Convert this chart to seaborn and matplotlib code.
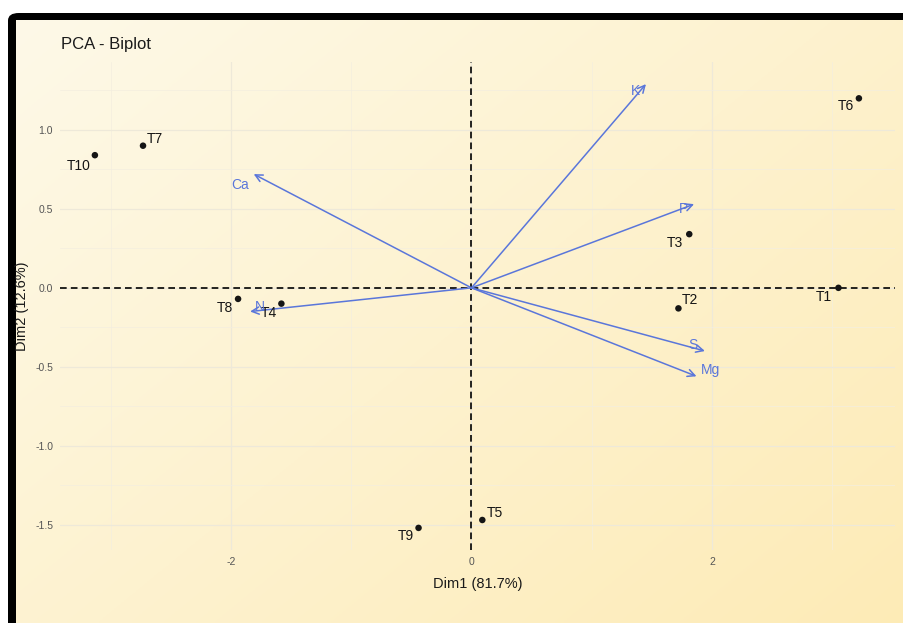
import numpy as np
import pandas as pd
import matplotlib
matplotlib.use("Agg")
import matplotlib.pyplot as plt
from matplotlib.patches import FancyBboxPatch
import seaborn as sns

# === Data ===
treatments = ["T1", "T2", "T3", "T4", "T5", "T6", "T7", "T8", "T9", "T10"]
dim1 = [3.05, 1.72, 1.81, -1.58, 0.09, 3.22, -2.73, -1.94, -0.44, -3.13]
dim2 = [0.00, -0.13, 0.34, -0.10, -1.47, 1.20, 0.90, -0.07, -1.52, 0.84]

variables = ["K", "P", "S", "Mg", "Ca", "N"]
var_dim1 = [1.45, 1.85, 1.94, 1.87, -1.81, -1.84]
var_dim2 = [1.29, 0.53, -0.40, -0.56, 0.72, -0.15]

x_ticks = [-2, 0, 2]
y_ticks = [-1.5, -1.0, -0.5, 0.0, 0.5, 1.0]

df = pd.DataFrame({"Dim1": dim1, "Dim2": dim2, "label": treatments})

# label nudges in pixels (repel-like placement)
pt_offsets = {"T1": (-15, -9), "T2": (12, 8), "T3": (-14, -9), "T4": (-13, -9),
              "T5": (13, 7), "T6": (-13, -8), "T7": (12, 7), "T8": (-13, -9),
              "T9": (-13, -8), "T10": (-16, -11)}
var_offsets = {"K": (-10, -7), "P": (-11, -5), "S": (-12, 6), "Mg": (14, 6),
               "Ca": (-14, -11), "N": (10, 5)}

sns.set_style("white")
plt.rcParams["font.family"] = ["Liberation Sans", "DejaVu Sans"]
plt.rcParams["axes.unicode_minus"] = False

W, H = 904, 623
fig = plt.figure(figsize=(W / 100, H / 100), dpi=100)
fig.patch.set_facecolor("white")

# === Screenshot-like frame and gradient background ===
frame_ax = fig.add_axes([0, 0, 1, 1], zorder=-2)
frame_ax.set_xlim(0, 1)
frame_ax.set_ylim(0, 1)
frame_ax.set_axis_off()
frame_ax.add_patch(FancyBboxPatch((8 / W, -0.2), 1.2, 1 - 13 / H + 0.2,
                                  boxstyle="round,pad=0,rounding_size=0.012",
                                  facecolor="black", edgecolor="none", clip_on=False))

bg = fig.add_axes([16 / W, 0, 1 - 16 / W + 0.01, 1 - 20 / H], zorder=-1)
gx, gy = np.meshgrid(np.linspace(0, 1, 300), np.linspace(0, 1, 200))
t = np.clip(0.55 * gx + 0.45 * gy, 0, 1)
c0 = np.array([254, 249, 232]) / 255
c1 = np.array([253, 235, 182]) / 255
img = c0[None, None, :] * (1 - t[..., None]) + c1[None, None, :] * t[..., None]
bg.imshow(img, aspect="auto", extent=[0, 1, 0, 1], origin="upper")
bg.set_axis_off()

# === Main panel ===
ax = fig.add_axes([60 / W, 1 - 550 / H, (895 - 60) / W, (550 - 62) / H], zorder=1)
ax.patch.set_alpha(0)
for s in ax.spines.values():
    s.set_visible(False)

ax.set_xlim(-3.42, 3.52)
ax.set_ylim(-1.66, 1.43)
ax.set_xticks(x_ticks)
ax.set_yticks(y_ticks)
ax.set_xticks([-3, -1, 1, 3], minor=True)
ax.set_yticks([-1.25, -0.75, -0.25, 0.25, 0.75, 1.25], minor=True)
ax.set_xticklabels([str(v) for v in x_ticks])
ax.set_yticklabels([f"{v:.1f}" for v in y_ticks])
ax.grid(which="major", color="#EEE9D9", linewidth=0.9)
ax.grid(which="minor", color="#F3EEDF", linewidth=0.5)
ax.tick_params(which="major", length=3, width=0.8, color="#555555",
               labelsize=7.5, labelcolor="#555555", pad=2)
ax.tick_params(which="minor", length=0)
ax.set_axisbelow(True)

ax.axhline(0, color="black", linestyle=(0, (4, 2.5)), linewidth=1.2, zorder=2)
ax.axvline(0, color="black", linestyle=(0, (4, 2.5)), linewidth=1.2, zorder=2)

# individuals
sns.scatterplot(data=df, x="Dim1", y="Dim2", ax=ax, color="#151515",
                s=22, edgecolor="none", zorder=4, legend=False)
for lab, x, y in zip(treatments, dim1, dim2):
    ax.annotate(lab, (x, y), xytext=pt_offsets[lab], textcoords="offset pixels",
                ha="center", va="center", fontsize=10, color="#151515", zorder=5)

# variable arrows
arrow_col = "#5A76DA"
for lab, x, y in zip(variables, var_dim1, var_dim2):
    ax.annotate("", xy=(x, y), xytext=(0, 0),
                arrowprops=dict(arrowstyle="->", color=arrow_col, lw=1.1,
                                shrinkA=0, shrinkB=0, mutation_scale=13),
                zorder=3)
    ax.annotate(lab, (x, y), xytext=var_offsets[lab], textcoords="offset pixels",
                ha="center", va="center", fontsize=10, color=arrow_col, zorder=5)

ax.set_xlabel("Dim1 (81.7%)", fontsize=10.5, color="#1a1a1a", labelpad=7)
ax.set_ylabel("Dim2 (12.6%)", fontsize=10.5, color="#1a1a1a", labelpad=4)

fig.text(61 / W, 1 - 45 / H, "PCA - Biplot", fontsize=12, color="#1a1a1a",
         ha="left", va="center")

fig.savefig("out.png", dpi=100)
